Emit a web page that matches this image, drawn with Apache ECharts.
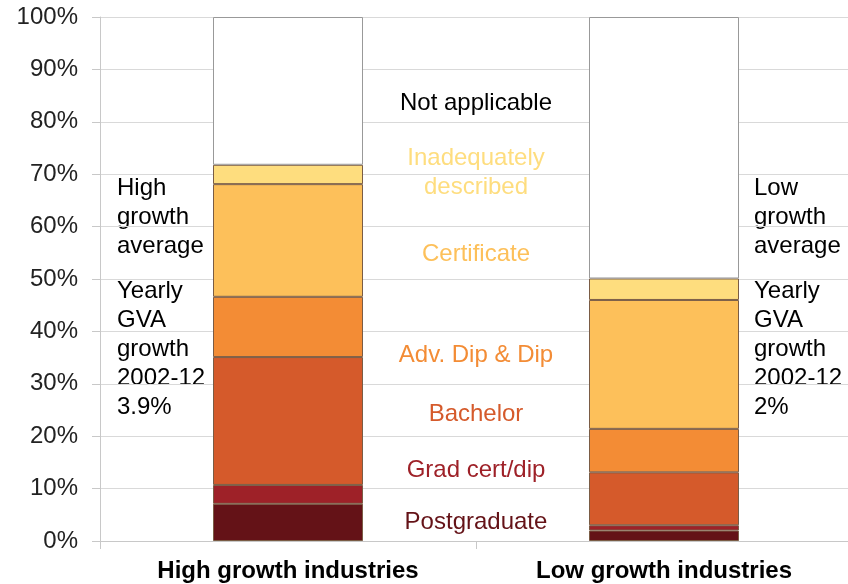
<!DOCTYPE html>
<html>
<head>
    <meta charset="utf-8">
    <title>ECharts</title>
    <script src="https://cdn.jsdelivr.net/npm/echarts@6/dist/echarts.min.js"></script>
    <style>
        html, body { margin: 0; padding: 0; background: #fff; overflow: hidden; }
    </style>
</head>
<body>
    <!-- a bit wider than the window: the category axis runs just past the right edge -->
    <div id="main" style="width: 852px;height:584px;"></div>
    <script type="text/javascript">
        // categories and stacked shares (%)
        var categories = ['High growth industries', 'Low growth industries'];
        var seriesNames = ['Postgraduate', 'Grad cert/dip', 'Bachelor', 'Adv. Dip & Dip', 'Certificate', 'Inadequately described', 'Not applicable'];
        var postgraduate = [7.1, 2.0];
        var gradCert = [3.6, 1.0];
        var bachelor = [24.4, 10.1];
        var advDip = [11.5, 8.3];
        var certificate = [21.5, 24.6];
        var inadequate = [3.7, 4.1];
        var notApplicable = [28.2, 49.9];
        var yTicks = [0, 10, 20, 30, 40, 50, 60, 70, 80, 90, 100];

        var colors = ['#641217', '#9e2128', '#d55a2b', '#f38c35', '#fdc05a', '#fedd7e', '#ffffff'];
        var values = [postgraduate, gradCert, bachelor, advDip, certificate, inadequate, notApplicable];

        var myChart = echarts.init(document.getElementById('main'));

        var series = seriesNames.map(function (name, i) {
            return {
                name: name,
                type: 'bar',
                stack: 'total',
                barWidth: 150,
                data: values[i],
                itemStyle: {
                    color: colors[i],
                    borderColor: i === 6 ? '#999' : '#7a5c45',
                    borderWidth: 1
                }
            };
        });

        var font = 'Liberation Sans, Arial, sans-serif';
        function txt(x, y, s, c, align) {
            return {
                type: 'text', x: x, y: y,
                style: {
                    text: s, fill: c, font: '24px ' + font,
                    textAlign: align || 'center', textVerticalAlign: 'middle', lineHeight: 29
                }
            };
        }

        var option = {
            animation: false,
            grid: { left: 100, right: 0, top: 17, bottom: 43 },
            xAxis: {
                type: 'category',
                data: categories,
                axisLine: { lineStyle: { color: '#c8c8c8' } },
                axisTick: { show: true, length: 8, lineStyle: { color: '#c8c8c8' } },
                axisLabel: { color: '#000', fontWeight: 'bold', fontSize: 24, fontFamily: font, margin: 18 }
            },
            yAxis: {
                type: 'value',
                min: yTicks[0],
                max: yTicks[yTicks.length - 1],
                interval: 10,
                axisLine: { show: true, lineStyle: { color: '#c8c8c8' } },
                axisTick: { show: true, length: 8, lineStyle: { color: '#c8c8c8' } },
                axisLabel: { formatter: '{value}%', color: '#222', fontSize: 24, fontFamily: font, margin: 22 },
                splitLine: { lineStyle: { color: '#d9d9d9' } }
            },
            graphic: [
                txt(476, 103, 'Not applicable', '#000'),
                txt(476, 173, 'Inadequately\ndescribed', '#fedd7e'),
                txt(476, 254, 'Certificate', '#fdc05a'),
                txt(476, 355, 'Adv. Dip & Dip', '#f38c35'),
                txt(476, 414, 'Bachelor', '#d55a2b'),
                txt(476, 470, 'Grad cert/dip', '#9e2128'),
                txt(476, 522, 'Postgraduate', '#641217'),
                txt(117, 217, 'High\ngrowth\naverage', '#000', 'left'),
                txt(117, 349, 'Yearly\nGVA\ngrowth\n2002-12\n3.9%', '#000', 'left'),
                txt(754, 217, 'Low\ngrowth\naverage', '#000', 'left'),
                txt(754, 349, 'Yearly\nGVA\ngrowth\n2002-12\n2%', '#000', 'left')
            ],
            series: series
        };

        myChart.setOption(option);
    </script>
</body>
</html>
